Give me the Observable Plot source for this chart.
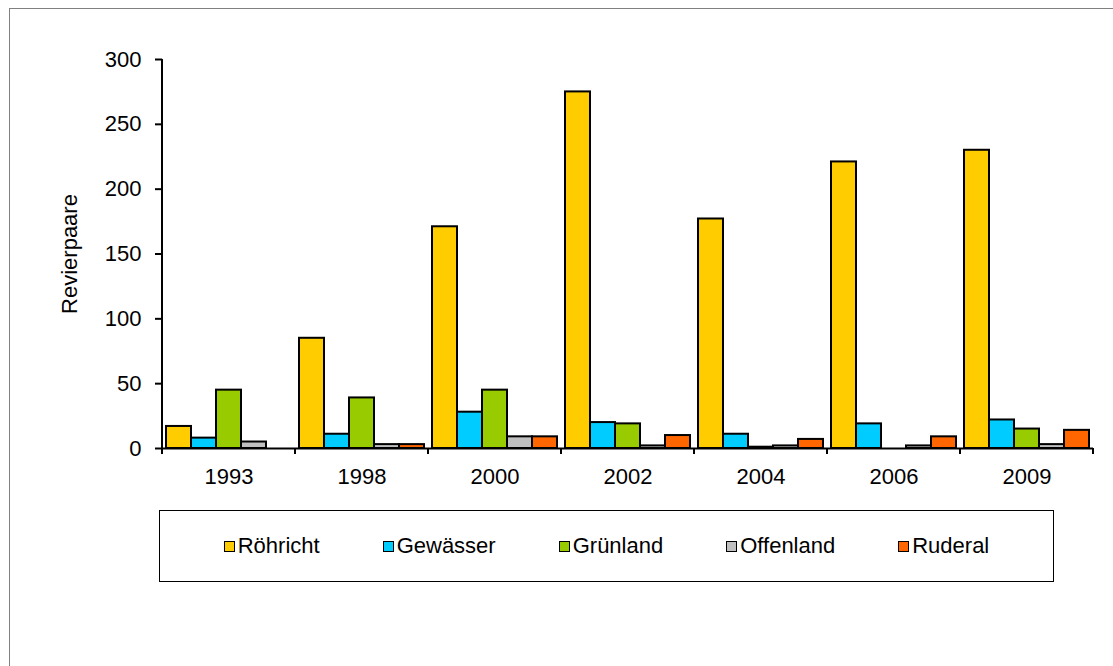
<!DOCTYPE html>
<html><head><meta charset="utf-8">
<script src="https://cdn.jsdelivr.net/npm/d3@7"></script>
<script src="https://cdn.jsdelivr.net/npm/@observablehq/plot@0.6"></script>
<style>
html,body{margin:0;padding:0;background:#fff;overflow:hidden;width:1113px;height:666px;}
#frame{position:absolute;left:9px;top:8px;width:1200px;height:800px;border:1.5px solid #808080;box-sizing:border-box;}
#chart{position:absolute;left:0;top:0;}
#legend{position:absolute;left:159px;top:510px;width:895px;height:72px;border:1.5px solid #000;box-sizing:border-box;display:flex;align-items:center;justify-content:center;gap:63px;font:22px "Liberation Sans",Arial,sans-serif;color:#000;}
.item{display:flex;align-items:center;}
.sw{width:9px;height:9px;border:1.5px solid #000;margin-right:3px;}
</style></head>
<body><div id="frame"></div><div id="chart"></div><div id="legend"></div>
<script>
const years = ["1993","1998","2000","2002","2004","2006","2009"];
const series = ["Röhricht","Gewässer","Grünland","Offenland","Ruderal"];
const colors = ["#FFCC00","#00CCFF","#99CC00","#C0C0C0","#FF6600"];
const roehricht = [17,85,171,275,177,221,230];
const gewaesser = [8,11,28,20,11,19,22];
const gruenland = [45,39,45,19,1,0,15];
const offenland = [5,3,9,2,2,2,3];
const ruderal = [0,3,9,10,7,9,14];
const yTicks = [0,50,100,150,200,250,300];
const yLabel = "Revierpaare";

const seriesValues = [roehricht,gewaesser,gruenland,offenland,ruderal];
const data = years.flatMap((yr,i)=>series.map((s,j)=>({year:yr, series:s, value:seriesValues[j][i]})));

const chart = Plot.plot({
  width:1113, height:500, marginLeft:162, marginRight:20, marginTop:59, marginBottom:52,
  style:{fontFamily:'"Liberation Sans", Arial, sans-serif', fontSize:"22px", color:"#000", background:"transparent", overflow:"visible"},
  fx:{domain:years, padding:0, label:null},
  x:{domain:series, paddingInner:0, paddingOuter:0.16, axis:null},
  y:{domain:[0,300]},
  color:{domain:series, range:colors},
  marks:[
    Plot.barY(data,{fx:"year", x:"series", y:"value", fill:"series", stroke:"#000", strokeWidth:2}),
    Plot.ruleY([0],{stroke:"#000", strokeWidth:2}),
    Plot.axisY({ticks:yTicks, tickSize:7, tickPadding:14, strokeWidth:2, label:yLabel, labelAnchor:"center", labelOffset:101, labelArrow:"none"}),
    Plot.axisFx({anchor:"bottom", tickSize:0, tickPadding:20, label:null})
  ]
});
document.getElementById("chart").appendChild(chart);

const svg = d3.select(chart);
const fx = chart.scale("fx"), y = chart.scale("y");
const y0 = y.apply(0), y1 = y.apply(300);
const x0 = fx.apply(years[0]);
const g = svg.append("g").attr("stroke","#000").attr("stroke-width",2);
g.append("line").attr("x1",x0).attr("x2",x0).attr("y1",y1).attr("y2",y0);
const bounds = years.map(v=>fx.apply(v)).concat([fx.apply(years[years.length-1])+fx.bandwidth]);
bounds.forEach(b=>g.append("line").attr("x1",b).attr("x2",b).attr("y1",y0).attr("y2",y0+6));

const legend = d3.select("#legend");
series.forEach((s,i)=>{
  const it = legend.append("div").attr("class","item");
  it.append("div").attr("class","sw").style("background",colors[i]);
  it.append("span").text(s);
});
</script>
</body></html>
